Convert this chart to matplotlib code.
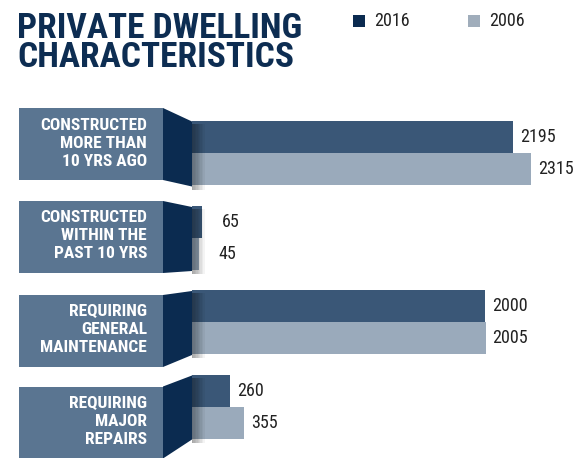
import matplotlib
matplotlib.use("Agg")
import matplotlib.pyplot as plt
from matplotlib.patches import Polygon, Rectangle
import numpy as np

categories = ["CONSTRUCTED\nMORE THAN\n10 YRS AGO",
              "CONSTRUCTED\nWITHIN THE\nPAST 10 YRS",
              "REQUIRING\nGENERAL\nMAINTENANCE",
              "REQUIRING\nMAJOR\nREPAIRS"]
vals_2016 = [2195, 65, 2000, 260]
vals_2006 = [2315, 45, 2005, 355]
series_names = ["2016", "2006"]

# colours
c_2016 = "#3a5777"
c_2006 = "#9aaabb"
c_box = "#5a7591"
c_fold = "#0b2b50"
c_title = "#0d2d52"
c_text = "#222222"

plt.rcParams["font.family"] = ["Roboto Condensed", "Archivo Narrow", "DejaVu Sans"]

W, H = 583, 458
fig = plt.figure(figsize=(W / 100, H / 100), dpi=100)

# bar area (pixel layout)
x0 = 192
px_per_unit = (531 - x0) / 2315
centers = np.array([152.5, 238, 322, 406.5])
bh = 32

ax = fig.add_axes([x0 / W, 0, 1 - x0 / W, 1])
ax.set_xlim(0, (W - x0) / px_per_unit)
ax.set_ylim(H, 0)
ax.axis("off")
ax.barh(centers - bh / 2, vals_2016, height=bh, color=c_2016)
ax.barh(centers + bh / 2, vals_2006, height=bh, color=c_2006)


def label_x(v):
    # short bars get pushed past the fold shadow
    gap = 7 if v * px_per_unit > 20 else 20
    return v + gap / px_per_unit


for y, v in zip(centers - bh / 2, vals_2016):
    ax.text(label_x(v), y, str(v), va="center", ha="left",
            fontsize=13, color=c_text)
for y, v in zip(centers + bh / 2, vals_2006):
    ax.text(label_x(v), y, str(v), va="center", ha="left",
            fontsize=13, color=c_text)

# overlay for label boxes, folds and shadows
ov = fig.add_axes([0, 0, 1, 1], zorder=5)
ov.set_xlim(0, W)
ov.set_ylim(H, 0)
ov.axis("off")
ov.patch.set_alpha(0)

box_offsets = [-8.5, -1, 9, 16]
for i, (cat, c, off) in enumerate(zip(categories, centers, box_offsets)):
    bt = c + off - 36
    bb = c + off + 36
    ov.add_patch(Rectangle((19, bt), 163 - 19, 72, color=c_box, lw=0))
    rt = c - bh + 1
    rb = c + bh + (2 if i == 0 else 1)
    # soft shadow to the right of the fold
    for k in range(10):
        ov.add_patch(Polygon([(192, rt + 2), (192 + k * 1.4, rt + 2),
                              (192 + k * 1.4, rb + 3), (192, rb + 3)],
                             closed=True, color="black", alpha=0.045, lw=0))
    ov.add_patch(Polygon([(163, bt), (192, rt), (192, rb), (163, bb)],
                         closed=True, color=c_fold, lw=0))
    ov.text(147, c + off - 1, cat, ha="right", va="center", color="white",
            fontsize=12.5, fontweight="bold", linespacing=1.25)

# title
fig.text(17 / W, 1 - 11.5 / H, "PRIVATE DWELLING\nCHARACTERISTICS", ha="left", va="top",
         fontsize=25.5, fontweight="bold", color=c_title, linespacing=0.88)

# legend
ov.add_patch(Rectangle((353, 15), 12, 12, color=c_fold, lw=0))
ov.text(374, 21, series_names[0], ha="left", va="center", fontsize=13, color=c_text)
ov.add_patch(Rectangle((468, 15), 12, 12, color="#a0adbb", lw=0))
ov.text(489, 21, series_names[1], ha="left", va="center", fontsize=13, color=c_text)

fig.savefig("out.png", dpi=100)
